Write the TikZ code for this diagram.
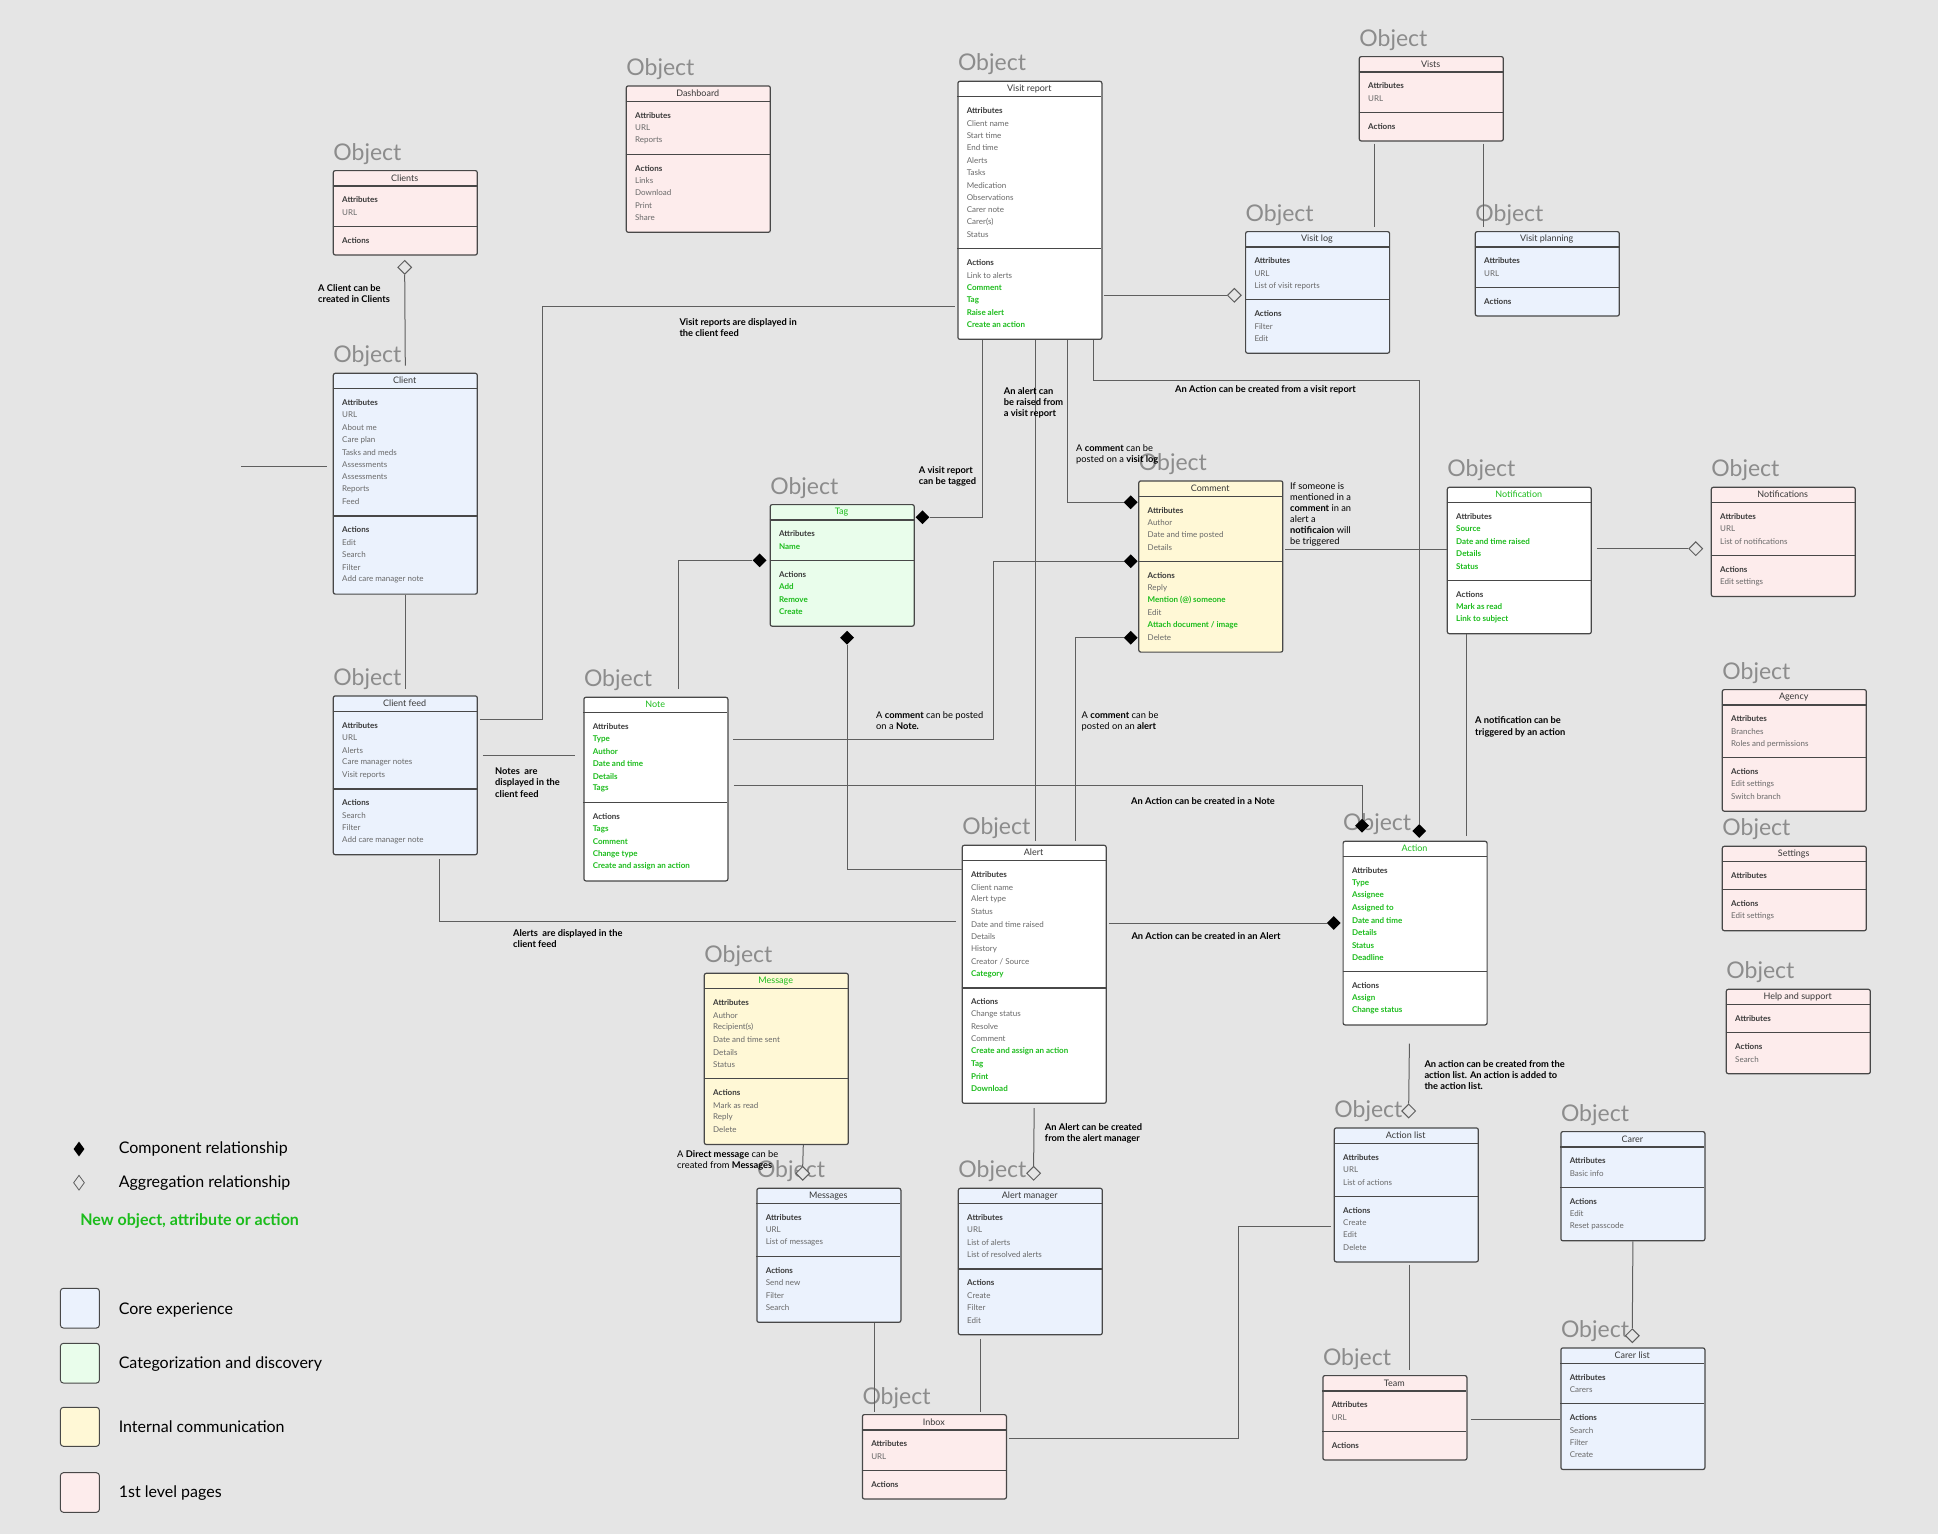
\documentclass[tikz,border=0pt]{standalone}
\usepackage{fontspec}
\setmainfont{Lato}
\usetikzlibrary{shapes.geometric,calc}
\definecolor{bgc}{RGB}{229,229,229}
\definecolor{bluef}{RGB}{235,242,253}
\definecolor{greenf}{RGB}{233,253,235}
\definecolor{yellowf}{RGB}{255,248,214}
\definecolor{pinkf}{RGB}{253,236,236}
\definecolor{bordc}{RGB}{72,72,72}
\definecolor{linec}{RGB}{95,95,95}
\definecolor{objc}{RGB}{140,140,140}
\definecolor{itemc}{RGB}{105,105,105}
\definecolor{headc}{RGB}{55,55,55}
\definecolor{newgreen}{RGB}{28,188,28}
\newcommand\gitem[1]{\textcolor{newgreen}{\bfseries #1}}
\newcommand\gtitle[1]{\textcolor{newgreen}{#1}}
\newcommand\umlbox[9]{%
  \pgfmathsetmacro\hA{28+12.4*#6}%
  \pgfmathsetmacro\hB{28+12.4*#8}%
  \pgfmathsetmacro\hT{16+\hA+\hB}%
  \node[umlframe, fill=#4, minimum height=\hT pt, anchor=north west] (#1) at (#2,#3) {};
  \node[objlabel] (#1-obj) at ({#2+0.5},{#3-10}) {Object};
  \node[titletext] (#1-title) at ({#2+72},{#3+8}) {#5};
  \draw[sepline] ({#2},{#3+16}) -- ({#2+144},{#3+16});
  \draw[sepline] ({#2},{#3+16+\hA}) -- ({#2+144},{#3+16+\hA});
  \node[hdtext] (#1-ah) at ({#2+9.3},{#3+30}) {Attributes};
  \ifnum#6>0 \foreach \itm [count=\cnt] in {#7} {\node[itemtext] (#1-a\cnt) at ({#2+9.3},{#3+30+12.4*\cnt}) {\itm};}\fi
  \node[hdtext] (#1-bh) at ({#2+9.3},{#3+30+\hA}) {Actions};
  \ifnum#8>0 \foreach \itm [count=\cnt] in {#9} {\node[itemtext] (#1-b\cnt) at ({#2+9.3},{#3+30+\hA+12.4*\cnt}) {\itm};}\fi
}
\begin{document}
\begin{tikzpicture}[x=1pt,y=-1pt,
  umlframe/.style={draw=bordc, line width=1.2pt, rounded corners=2pt, minimum width=144pt, inner sep=0pt},
  sepline/.style={draw=bordc, line width=1.2pt},
  objlabel/.style={anchor=base west, inner sep=0pt, text=objc, font=\fontsize{23}{25}\selectfont},
  titletext/.style={inner sep=0pt, text=headc, font=\fontsize{9}{10}\selectfont},
  hdtext/.style={anchor=west, inner sep=0pt, text=headc, font=\fontsize{8}{9}\selectfont\bfseries},
  itemtext/.style={anchor=west, inner sep=0pt, text=itemc, font=\fontsize{8}{9}\selectfont},
  lbl/.style={anchor=north west, inner sep=0pt, align=left, text=black, font=\fontsize{9.3}{11.3}\selectfont},
  lblb/.style={lbl, font=\fontsize{9.3}{11.3}\selectfont\bfseries},
  conn/.style={draw=linec, line width=1pt},
  cdia/.style={diamond, fill=black, minimum width=14pt, minimum height=14pt, inner sep=0pt},
  odia/.style={diamond, draw=linec, fill=bgc, line width=1pt, minimum width=14pt, minimum height=14pt, inner sep=0pt},
  legtext/.style={anchor=west, inner sep=0pt, text=black, font=\fontsize{16}{18}\selectfont}
]
\fill[bgc] (0,0) rectangle (1938,1534);
\useasboundingbox (0,0) rectangle (1938,1534);

% ---------- boxes ----------
\umlbox{clients}{332.7}{170}{pinkf}{Clients}{1}{URL}{0}{}
\umlbox{dash}{625.7}{85.3}{pinkf}{Dashboard}{2}{URL,Reports}{4}{Links,Download,Print,Share}
\umlbox{vr}{957.3}{80.7}{white}{Visit report}{10}{Client name,Start time,End time,Alerts,Tasks,Medication,Observations,Carer note,Carer(s),Status}{5}{Link to alerts,\gitem{Comment},\gitem{Tag},\gitem{Raise alert},\gitem{Create an action}}
\umlbox{vists}{1358.7}{56}{pinkf}{Vists}{1}{URL}{0}{}
\umlbox{vlog}{1245}{231}{bluef}{Visit log}{2}{URL,List of visit reports}{2}{Filter,Edit}
\umlbox{vplan}{1474.7}{231}{bluef}{Visit planning}{1}{URL}{0}{}
\umlbox{client}{332.7}{372.7}{bluef}{Client}{8}{URL,About me,Care plan,Tasks and meds,Assessments,Assessments,Reports,Feed}{4}{Edit,Search,Filter,Add care manager note}
\umlbox{cfeed}{332.7}{695.3}{bluef}{Client feed}{4}{URL,Alerts,Care manager notes,Visit reports}{3}{Search,Filter,Add care manager note}
\umlbox{note}{583.3}{696.7}{white}{\gtitle{Note}}{5}{\gitem{Type},\gitem{Author},\gitem{Date and time},\gitem{Details},\gitem{Tags}}{4}{\gitem{Tags},\gitem{Comment},\gitem{Change type},\gitem{Create and assign an action}}
\umlbox{tag}{769.6}{504}{greenf}{\gtitle{Tag}}{1}{\gitem{Name}}{3}{\gitem{Add},\gitem{Remove},\gitem{Create}}
\umlbox{comment}{1138.2}{480.3}{yellowf}{Comment}{3}{Author,Date and time posted,Details}{5}{Reply,\gitem{Mention (@) someone},Edit,\gitem{Attach document / image},Delete}
\umlbox{notif}{1446.7}{486.7}{white}{\gtitle{Notification}}{4}{\gitem{Source},\gitem{Date and time raised},\gitem{Details},\gitem{Status}}{2}{\gitem{Mark as read},\gitem{Link to subject}}
\umlbox{notifs}{1710.7}{486.7}{pinkf}{Notifications}{2}{URL,List of notifications}{1}{Edit settings}
\umlbox{agency}{1721.7}{689}{pinkf}{Agency}{2}{Branches,Roles and permissions}{2}{Edit settings,Switch branch}
\umlbox{settings}{1721.7}{845.7}{pinkf}{Settings}{0}{}{1}{Edit settings}
\umlbox{help}{1725.7}{988.7}{pinkf}{Help and support}{0}{}{1}{Search}
\umlbox{alert}{961.6}{844.7}{white}{Alert}{8}{Client name,Alert type,Status,Date and time raised,Details,History,{Creator / Source},\gitem{Category}}{7}{Change status,Resolve,Comment,\gitem{Create and assign an action},\gitem{Tag},\gitem{Print},\gitem{Download}}
\umlbox{action}{1342.5}{840.7}{white}{\gtitle{Action}}{7}{\gitem{Type},\gitem{Assignee},\gitem{Assigned to},\gitem{Date and time},\gitem{Details},\gitem{Status},\gitem{Deadline}}{2}{\gitem{Assign},\gitem{Change status}}
\umlbox{message}{703.7}{972.7}{yellowf}{\gtitle{Message}}{5}{Author,Recipient(s),Date and time sent,Details,Status}{3}{Mark as read,Reply,Delete}
\umlbox{messages}{756.3}{1187.7}{bluef}{Messages}{2}{URL,List of messages}{3}{Send new,Filter,Search}
\umlbox{alertmgr}{957.7}{1187.7}{bluef}{Alert manager}{3}{URL,List of alerts,List of resolved alerts}{3}{Create,Filter,Edit}
\umlbox{inbox}{861.8}{1414}{pinkf}{Inbox}{1}{URL}{0}{}
\umlbox{actlist}{1333.7}{1127.3}{bluef}{Action list}{2}{URL,List of actions}{3}{Create,Edit,Delete}
\umlbox{carer}{1560.3}{1131}{bluef}{Carer}{1}{Basic info}{2}{Edit,Reset passcode}
\umlbox{team}{1322.3}{1375}{pinkf}{Team}{1}{URL}{0}{}
\umlbox{carerlist}{1560.3}{1347.3}{bluef}{Carer list}{1}{Carers}{3}{Search,Filter,Create}

% ---------- diamonds ----------
\node[cdia] (dTV) at (922.5,517.3) {};
\node[cdia] (dCV) at (1130.7,502.3) {};
\node[cdia] (dCN) at (1130.7,561.2) {};
\node[cdia] (dCA) at (1130.7,637.7) {};
\node[cdia] (dTN) at (759.6,560.3) {};
\node[cdia] (dTA) at (847.1,637.7) {};
\node[cdia] (dNA) at (1362.1,825.7) {};
\node[cdia] (dVA) at (1419.3,831) {};
\node[cdia] (dAA) at (1333.7,923) {};
\node[odia] (odClients) at (404.7,267.3) {};
\node[odia] (odN) at (1695.7,548.7) {};
\node[odia] (odV) at (1234.3,295.3) {};
\node[odia] (odM) at (802.7,1173.3) {};
\node[odia] (odA) at (1033.6,1173.3) {};
\node[odia] (odAL) at (1408.7,1111) {};
\node[odia] (odC) at (1632.3,1335.7) {};

% ---------- connectors ----------
\draw[conn] (odClients.south) -- ([yshift=7pt]client.north);
\draw[conn] (client.south) -- ([yshift=6pt]cfeed.north);
\coordinate (leftend) at (241,466.3);
\draw[conn, shorten >=6pt] (leftend) -- (leftend -| client.west);
\draw[conn] ([xshift=2pt,yshift=-24pt]cfeed.north east) -- ++(62.5,0) |- ([xshift=-2pt,yshift=-225.6pt]vr.north west);
\draw[conn, shorten >=8pt] ([xshift=5pt,yshift=-60pt]cfeed.north east) coordinate (nA) -- (nA -| note.west);
\draw[conn] ([xshift=34.6pt,yshift=-4pt]cfeed.south) |- ([xshift=-6pt,yshift=-76.3pt]alert.north west);
\draw[conn] (dTV.east) -| ([xshift=-47pt]vr.south);
\draw[conn, shorten >=4pt] ([xshift=5.2pt]vr.south) coordinate (aV) -- (aV |- alert.north);
\draw[conn] ([xshift=37.4pt]vr.south) |- (dCV.west);
\draw[conn] (dCN.west) -- ++(-130.5,0) |- ([xshift=4pt,yshift=-42.3pt]note.north east);
\draw[conn] (dCA.west) -| ([xshift=41.4pt,yshift=4pt]alert.north);
\draw[conn] (dTN.west) -| ([xshift=23pt,yshift=7.4pt]note.north);
\draw[conn] (dTA.south) |- ([yshift=-24.3pt]alert.north west);
\draw[conn] ([xshift=5.4pt,yshift=-88.6pt]note.north east) -| (dNA.north);
\draw[conn] ([xshift=63.4pt]vr.south) -- ++(0,40.8) -| (dVA.north);
\draw[conn] ([xshift=2pt,yshift=-78.3pt]alert.north east) -- (dAA.west);
\draw[conn, shorten >=5pt] ([xshift=-53pt]notif.south) coordinate (nt) -- (nt |- action.north);
\draw[conn] ([xshift=2pt,yshift=-68.7pt]comment.north east) coordinate (cn) -- (cn -| notif.west);
\draw[conn] ([xshift=5pt,yshift=-62pt]notif.north east) -- (odN.west);
\draw[conn] ([xshift=1.4pt,yshift=-214.6pt]vr.north east) -- (odV.west);
\draw[conn, shorten >=4.3pt] ([xshift=-56.4pt,yshift=-2pt]vists.south) coordinate (v1) -- (v1 |- vlog.north);
\draw[conn, shorten >=4.3pt] ([xshift=52.6pt,yshift=-2pt]vists.south) coordinate (v2) -- (v2 |- vplan.north);
\draw[conn] ([xshift=27pt]message.south) -- (odM.north);
\draw[conn] ([yshift=-4.3pt]alert.south) -- (odA.north);
\draw[conn, shorten >=2.3pt] ([xshift=45.2pt]messages.south) coordinate (m1) -- (m1 |- inbox.north);
\draw[conn, shorten >=2.3pt] ([xshift=-49.7pt,yshift=-3.2pt]alertmgr.south) coordinate (m2) -- (m2 |- inbox.north);
\draw[conn] ([xshift=2pt,yshift=-24.3pt]inbox.north east) -- ++(229,0) |- ([xshift=-3pt,yshift=-99.4pt]actlist.north west);
\draw[conn] ([xshift=-5.7pt,yshift=-18pt]action.south) -- (odAL.north);
\draw[conn, shorten >=5pt] ([xshift=3pt,yshift=-2pt]actlist.south) coordinate (t1) -- (t1 |- team.north);
\draw[conn] ([xshift=3.3pt,yshift=-44pt]team.north east) coordinate (t2) -- (t2 -| carerlist.west);
\draw[conn] (carer.south) -- (odC.north);

% ---------- labels ----------
\node[lblb] (l1) at (318,284.2) {A Client can be\\created in Clients};
\node[lblb] (l2) at (679.3,318.2) {Visit reports are displayed in\\the client feed};
\node[lblb] (l3) at (1003.6,387.2) {An alert can\\be raised from\\a visit report};
\node[lblb] (l4) at (918.6,466.2) {A visit report\\can be tagged};
\node[lbl] (l5) at (1076,444.2) {A \textbf{comment} can be\\posted on a \textbf{visit log}};
\node[lblb] (l6) at (1175,385) {An Action can be created from a visit report};
\node[lbl, font=\fontsize{9.3}{11.1}\selectfont] (l7) at (1290,482.2) {If someone is\\mentioned in a\\\textbf{comment} in an\\alert a\\\textbf{notificaion} will\\be triggered};
\node[lbl] (l8) at (876,711) {A \textbf{comment} can be posted\\on a \textbf{Note.}};
\node[lbl] (l9) at (1081.5,711) {A \textbf{comment} can be\\posted on an \textbf{alert}};
\node[lblb] (l10) at (1475,716.8) {A notification can be\\triggered by an action};
\node[lblb] (l11) at (495,767.5) {Notes\ \ are\\displayed in the\\client feed};
\node[lblb] (l12) at (1131,797.5) {An Action can be created in a Note};
\node[lblb] (l13) at (1131.3,932.2) {An Action can be created in an Alert};
\node[lblb] (l14) at (513,929.5) {Alerts\ \ are displayed in the\\client feed};
\node[lbl] (l15) at (677,1150.5) {A \textbf{Direct message} can be\\created from \textbf{Messages}};
\node[lblb] (l16) at (1044.7,1123.5) {An Alert can be created\\from the alert manager};
\node[lblb] (l17) at (1424.3,1060.2) {An action can be created from the\\action list. An action is added to\\the action list.};

% ---------- legend ----------
\node[diamond, fill=black, minimum width=11pt, minimum height=15pt, inner sep=0pt] (lgc) at (79,1149) {};
\node[legtext] (lgct) at (118.6,1149) {Component relationship};
\node[diamond, draw=linec, line width=0.8pt, minimum width=11pt, minimum height=15pt, inner sep=0pt] (lga) at (79,1182.7) {};
\node[legtext] (lgat) at (118.6,1182.7) {Aggregation relationship};
\node[legtext, text=newgreen, font=\fontsize{16}{18}\selectfont\bfseries] (lgn) at (80.2,1221) {New object, attribute or action};
\draw[draw=bordc, line width=1pt, rounded corners=3pt, fill=bluef] (60.4,1288.3) rectangle (99.4,1328);
\node[legtext] (lg1) at (118.6,1310.3) {Core experience};
\draw[draw=bordc, line width=1pt, rounded corners=3pt, fill=greenf] (60.4,1343.3) rectangle (99.4,1383);
\node[legtext] (lg2) at (118.6,1363.7) {Categorization and discovery};
\draw[draw=bordc, line width=1pt, rounded corners=3pt, fill=yellowf] (60.4,1407.3) rectangle (99.4,1446.3);
\node[legtext] (lg3) at (118.6,1427) {Internal communication};
\draw[draw=bordc, line width=1pt, rounded corners=3pt, fill=pinkf] (60.4,1472.7) rectangle (99.4,1512.3);
\node[legtext] (lg4) at (118.6,1493.3) {1st level pages};
\end{tikzpicture}
\end{document}
